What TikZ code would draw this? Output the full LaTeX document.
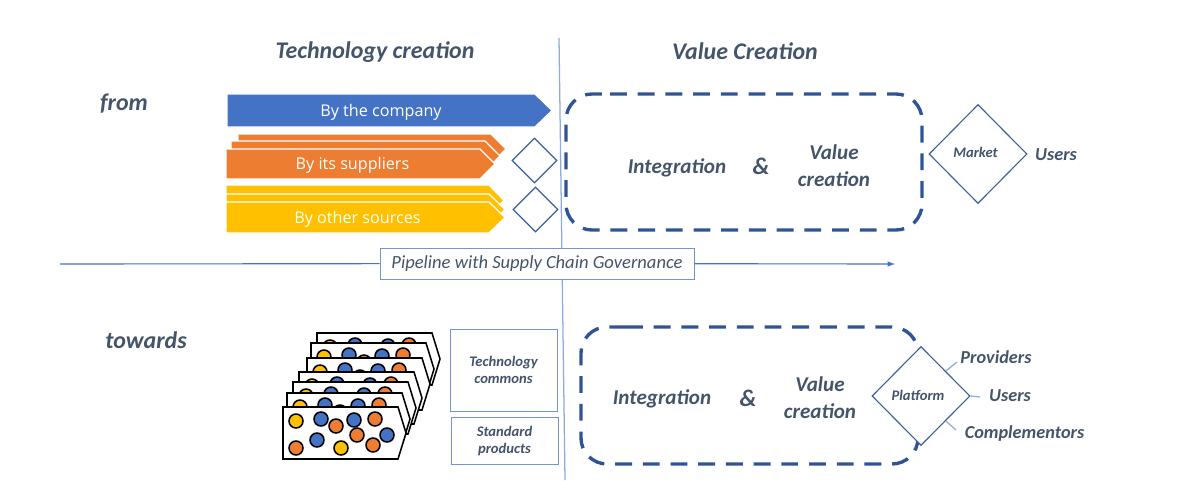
\documentclass[tikz,border=0pt]{standalone}
\usepackage{fontspec}
\setmainfont{Carlito}
\newfontfamily\chevronfont{Open Sans}
\usetikzlibrary{shapes.geometric}
\definecolor{slate}{HTML}{44546A}
\definecolor{rulecol}{HTML}{8FAADC}
\definecolor{linecol}{HTML}{4472C4}
\definecolor{dashcol}{HTML}{2F5496}
\definecolor{diacol}{HTML}{3E5F9E}
\definecolor{orangecol}{HTML}{ED7D31}
\definecolor{yellowcol}{HTML}{FFC000}
\tikzset{
    heading/.style={font=\fontsize{17}{20}\selectfont\bfseries\itshape,text=slate,inner sep=0pt},
    label/.style={font=\fontsize{15}{19}\selectfont\bfseries\itshape,text=slate,inner sep=0pt,align=center},
    side label/.style={font=\fontsize{13}{16}\selectfont\bfseries\itshape,text=slate,inner sep=0pt},
    small label/.style={font=\fontsize{10.4}{12.3}\selectfont\bfseries\itshape,text=slate,inner sep=0pt,align=center},
    chevron text/.style={font=\chevronfont\fontsize{11.5}{14}\selectfont,text=white,inner sep=0pt},
    dash box/.style={draw=dashcol,line width=2.4pt,rounded corners=0.65cm,dash pattern=on 12pt off 7.7pt},
    flag/.style={draw=diacol,line width=0.8pt,diamond,aspect=1,inner sep=0pt,fill=white},
    text box/.style={draw=linecol!75,line width=0.7pt,inner sep=0pt,fill=white},
    card/.style={draw=black,line width=1.1pt,fill=white},
    dot/.style={draw=black,line width=1.1pt},
}
\begin{document}
\begin{tikzpicture}[x=0.025cm,y=-0.025cm]
    \def\u{0.025cm}
    \useasboundingbox (0,0) rectangle (1200,480);

    % Chevrons: left, top, shoulder, tip, height, colour
    \def\chevron#1#2#3#4#5#6{
        \draw[fill=#6,draw=white,line width=0.9pt] (#1,#2) -- (#3,#2) -- (#4,{#2+#5/2}) -- (#3,{#2+#5}) -- (#1,{#2+#5}) -- cycle;
    }

    % Cards: left, top, then the dots
    \def\dotcard#1#2{
        \draw[card] (#1,#2) -- ++(115,0) -- ++(8,26) -- ++(-8,26) -- ++(-115,0) -- cycle;
        \foreach \dx/\dy/\c in {13/14/yellowcol,38/12/linecol,53/19/orangecol,71/13/linecol,92/12/orangecol,
                                74/28/orangecol,104/28/linecol,34/33/linecol,13/41/orangecol,58/41/yellowcol,90/38/orangecol}
            \draw[dot,fill=\c] ({#1+\dx},{#2+\dy}) circle (7);
    }

    % Section rules and pipeline
    \coordinate (ruleTop) at (559,38);
    \coordinate (ruleBottom) at (565,480);
    \coordinate (pipeStart) at (60,264);
    \coordinate (pipeEnd) at (895,264);
    \draw[rulecol,line width=0.9pt] (ruleTop) -- (ruleBottom);
    \node[text box,minimum width=314*\u,minimum height=31*\u,font=\fontsize{13.2}{15}\selectfont\itshape,text=slate] (pipeline) at (537,263.5) {Pipeline with Supply Chain Governance};
    \draw[linecol,line width=0.8pt] (pipeStart) -- (pipeline);
    \draw[linecol,line width=0.8pt,-latex] (pipeline) -- (pipeEnd);

    % Headings
    \node[heading] (techHead) at (375,52) {Technology creation};
    \node[heading] (valueHead) at (745,51.5) {Value Creation};
    \node[heading] (fromLabel) at (124,104) {from};
    \node[heading] (towardsLabel) at (146,340.5) {towards};

    % Chevrons of the company, the suppliers and other sources
    \chevron{227}{94}{535}{552}{33}{linecol}
    \chevron{238}{134}{491}{506}{30}{orangecol}
    \chevron{231}{141}{485}{500}{30}{orangecol}
    \chevron{226}{149}{480}{495}{30}{orangecol}
    \chevron{226}{185}{489}{504}{31}{yellowcol}
    \chevron{226}{194}{489}{505}{31}{yellowcol}
    \chevron{226}{202}{489}{505}{31}{yellowcol}
    \node[chevron text] (company) at (381,112.5) {By the company};
    \node[chevron text] (suppliers) at (352.5,165.5) {By its suppliers};
    \node[chevron text] (sources) at (357.5,219.5) {By other sources};

    % Small diamonds
    \node[flag,minimum width=45*\u,minimum height=45*\u] (flagA) at (534.5,160.5) {};
    \node[flag,minimum width=45*\u,minimum height=45*\u] (flagB) at (535.5,209.5) {};

    % Upper integration box
    \draw[dash box] (610,94) -- (922,94) -- (922,230) -- (566,230) -- (566,94) -- (610,94);
    \node[label] (integA) at (677,167.5) {Integration};
    \node[heading] (andA) at (761,166) {\&};
    \node[label] (valueA) at (834,165.5) {Value\\creation};
    \node[flag,minimum width=98*\u,minimum height=99*\u,small label] (market) at (978,154) {};
    \node[small label] (marketText) at (975.5,152.5) {Market};
    \node[side label] (usersA) at (1056,155) {Users};

    % Stack of cards
    \dotcard{317}{333}
    \dotcard{311}{343}
    \dotcard{307}{358}
    \dotcard{299}{372}
    \dotcard{293}{382}
    \dotcard{287}{393}
    \dotcard{283}{407}

    % Commons and products
    \node[text box,minimum width=107*\u,minimum height=82*\u,small label] (commons) at (503.5,370) {Technology\\commons};
    \node[text box,minimum width=107*\u,minimum height=47*\u,small label] (products) at (504.5,441) {Standard\\products};

    % Lower integration box
    \draw[dash box] (626,327) -- (918,327) -- (918,464) -- (581,464) -- (581,327) -- (626,327);
    \node[label] (integB) at (662,398.5) {Integration};
    \node[heading] (andB) at (748,398) {\&};
    \node[label] (valueB) at (820,398) {Value\\creation};
    \node[flag,minimum width=98*\u,minimum height=99*\u] (platform) at (921,396) {};
    \node[small label] (platformText) at (918,395.5) {Platform};

    % Platform sides
    \node[side label] (providers) at (996,357) {Providers};
    \node[side label] (usersB) at (1010,395.5) {Users};
    \node[side label] (complementors) at (1024.5,433.5) {Complementors};
    \coordinate (toProviders) at (957,362);
    \coordinate (toUsers) at (980,397);
    \coordinate (toComplementors) at (956,430);
    \draw[rulecol,line width=0.9pt] (platform.north east) -- (toProviders);
    \draw[rulecol,line width=0.9pt] (platform.east) -- (toUsers);
    \draw[rulecol,line width=0.9pt] (platform.south east) -- (toComplementors);
\end{tikzpicture}
\end{document}
